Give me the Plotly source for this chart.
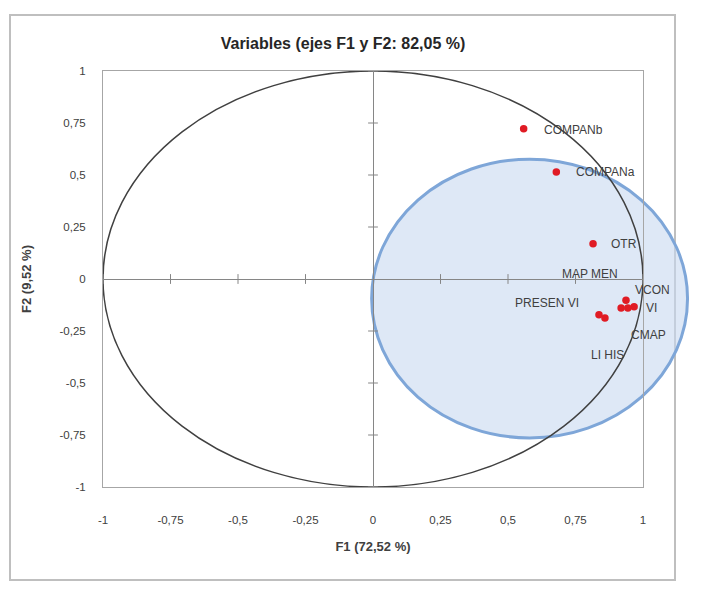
import plotly.graph_objects as go

# ---------------- data ----------------
variables = ["COMPANb", "COMPANa", "OTR", "VCON", "VI", "MAP MEN", "CMAP", "PRESEN VI", "LI HIS"]
f1_values = [0.558, 0.679, 0.815, 0.937, 0.967, 0.919, 0.944, 0.837, 0.859]
f2_values = [0.722, 0.515, 0.170, -0.102, -0.134, -0.139, -0.139, -0.172, -0.187]

tick_values = [-1, -0.75, -0.5, -0.25, 0, 0.25, 0.5, 0.75, 1]
tick_labels = ["-1", "-0,75", "-0,5", "-0,25", "0", "0,25", "0,5", "0,75", "1"]

title_text = "Variables (ejes F1 y F2: 82,05 %)"
x_title = "F1 (72,52 %)"
y_title = "F2 (9,52 %)"

# ---------------- styling / layout ----------------
# page has an 8px body margin, so the figure is drawn at (8, 8)
OFF = 8
W, H = 711 - OFF, 614 - OFF
ML, MR, MT, MB = 103 - OFF, 68, 71 - OFF, 127
PW, PH = W - ML - MR, H - MT - MB
FONT = "Liberation Sans"
TXT = "#404040"

# label offsets in pixels (xshift, yshift) for each variable label
label_shift = [(18, -1), (18, 0), (16, 0), (7, 10), (10, -1), (-61, 34), (1, -27), (-86, 12), (-16, -37)]

# highlight ellipse (data units)
HL_CX, HL_CY, HL_RX, HL_RY = 0.580, -0.094, 0.585, 0.67

def to_paper(v):
    return (v - tick_values[0]) / (tick_values[-1] - tick_values[0])

fig = go.Figure()

# small cross ticks on the zero axes
inner_ticks = [t for t in tick_values if t != 0]
fig.add_trace(go.Scatter(
    x=inner_ticks, y=[0] * len(inner_ticks), mode="markers",
    marker=dict(symbol="line-ns", size=7, line=dict(width=1, color="#868686")),
    hoverinfo="skip", showlegend=False))
fig.add_trace(go.Scatter(
    x=[0] * len(inner_ticks), y=inner_ticks, mode="markers",
    marker=dict(symbol="line-ew", size=7, line=dict(width=1, color="#868686")),
    hoverinfo="skip", showlegend=False))

# variable points
fig.add_trace(go.Scatter(
    x=f1_values, y=f2_values, mode="markers",
    marker=dict(size=7.5, color="#e01b24"),
    text=variables, hoverinfo="text+x+y", showlegend=False))

for name, xv, yv, (dx, dy) in zip(variables, f1_values, f2_values, label_shift):
    fig.add_annotation(x=xv, y=yv, text=name, showarrow=False,
                       xanchor="left", yanchor="middle", xshift=dx, yshift=dy,
                       font=dict(family=FONT, size=12, color=TXT))

# outer border in page pixels
BX0, BX1, BY0, BY1 = 10 - OFF, 675 - OFF, 15 - OFF, 580 - OFF

shapes = [
    dict(type="rect", xref="paper", yref="paper",
         x0=(BX0 - ML) / PW, x1=(BX1 - ML) / PW,
         y0=((H - MB) - BY1) / PH, y1=((H - MB) - BY0) / PH,
         line=dict(color="#bfbfbf", width=2), fillcolor="white", layer="below"),
    dict(type="circle", xref="paper", yref="paper",
         x0=to_paper(HL_CX - HL_RX), x1=to_paper(HL_CX + HL_RX),
         y0=to_paper(HL_CY - HL_RY), y1=to_paper(HL_CY + HL_RY),
         line=dict(color="#7ea6d8", width=3), fillcolor="rgba(200,217,240,0.6)", layer="below"),
    dict(type="circle", xref="x", yref="y", x0=-1, x1=1, y0=-1, y1=1,
         line=dict(color="#404040", width=1.5), layer="below"),
]

axis_common = dict(
    range=[tick_values[0], tick_values[-1]],
    tickvals=tick_values, ticktext=tick_labels,
    showgrid=False, zeroline=True, zerolinecolor="#868686", zerolinewidth=1,
    showline=True, mirror=True, linecolor="#a6a6a6", linewidth=1,
    ticks="outside", tickcolor="rgba(0,0,0,0)",
    tickfont=dict(family=FONT, size=11.5, color=TXT),
    fixedrange=True,
)

fig.update_layout(
    width=W, height=H,
    margin=dict(l=ML, r=MR, t=MT, b=MB, autoexpand=False),
    paper_bgcolor="white", plot_bgcolor="rgba(0,0,0,0)",
    title=dict(text="<b>" + title_text + "</b>", x=(343 - OFF) / W, xref="container", xanchor="center",
               y=1 - (43 - OFF) / H, yref="container", yanchor="middle",
               font=dict(family=FONT, size=16, color="#262626")),
    xaxis=dict(axis_common, ticklen=22,
               title=dict(text="<b>" + x_title + "</b>", standoff=17,
                          font=dict(family=FONT, size=13, color=TXT))),
    yaxis=dict(axis_common, ticklen=14,
               title=dict(text="<b>" + y_title + "</b>", standoff=24,
                          font=dict(family=FONT, size=13, color=TXT))),
    shapes=shapes,
)

fig.write_html("out.html")
